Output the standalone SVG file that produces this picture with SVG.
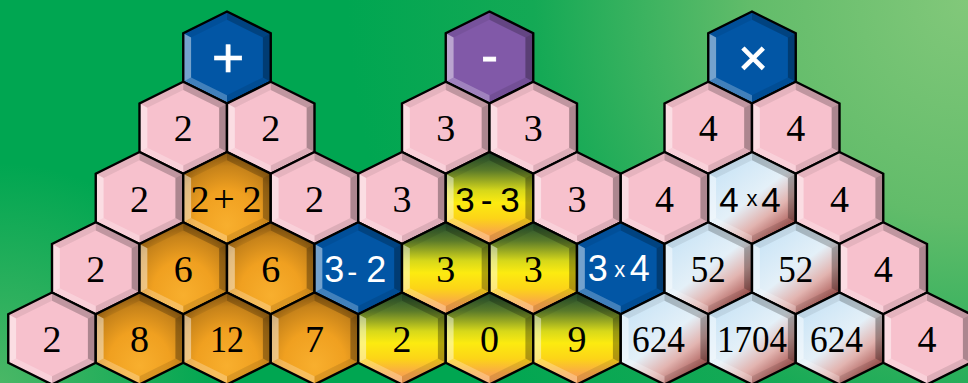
<svg xmlns="http://www.w3.org/2000/svg" xmlns:xlink="http://www.w3.org/1999/xlink" width="968" height="383" viewBox="0 0 968 383">
<style>
.n{font-family:"Liberation Serif","Times New Roman",serif;font-size:38px;fill:#000;text-anchor:middle}
.s{font-family:"Liberation Sans",Arial,sans-serif;font-size:35px;fill:#000;text-anchor:middle}
.w{font-family:"Liberation Sans",Arial,sans-serif;font-size:36px;fill:#fff;text-anchor:middle}
.x{font-size:22px}
.op{font-family:"Liberation Sans",Arial,sans-serif;fill:#fff;text-anchor:middle;stroke:#fff}
</style>
<defs>
<radialGradient id="bgA" gradientUnits="userSpaceOnUse" cx="968" cy="0" r="620">
<stop offset="0" stop-color="#82C87A"/>
<stop offset="0.35" stop-color="#62BC6A"/>
<stop offset="0.7" stop-color="#14A955"/>
<stop offset="1" stop-color="#00A651"/>
</radialGradient>
<radialGradient id="bgB" gradientUnits="userSpaceOnUse" cx="0" cy="383" r="220">
<stop offset="0" stop-color="#52B968" stop-opacity="0.9"/>
<stop offset="1" stop-color="#52B968" stop-opacity="0"/>
</radialGradient>
<radialGradient id="og" cx="0.5" cy="0.72" r="0.78" fx="0.5" fy="0.8">
<stop offset="0" stop-color="#F8AF2E"/>
<stop offset="0.45" stop-color="#F0A020"/>
<stop offset="0.75" stop-color="#C7831A"/>
<stop offset="1" stop-color="#7A4C0E"/>
</radialGradient>
<linearGradient id="yg" x1="0" y1="0" x2="0" y2="1">
<stop offset="0" stop-color="#1F4A2E"/>
<stop offset="0.2" stop-color="#5A7A2A"/>
<stop offset="0.42" stop-color="#D7D81A"/>
<stop offset="0.55" stop-color="#FCEB10"/>
<stop offset="0.72" stop-color="#FCD418"/>
<stop offset="0.88" stop-color="#F9A848"/>
<stop offset="1" stop-color="#F59A5A"/>
</linearGradient>
<linearGradient id="rg" x1="0.2" y1="0.1" x2="0.85" y2="1">
<stop offset="0" stop-color="#C9E4F6"/>
<stop offset="0.45" stop-color="#E4F0F8"/>
<stop offset="0.68" stop-color="#E2B4B0"/>
<stop offset="1" stop-color="#8E2E2A"/>
</linearGradient>
<path id="hx" d="M0,-46 L43.75,-24.25 L43.75,24.25 L0,46 L-43.75,24.25 L-43.75,-24.25 Z"/>
<g id="bv">
<path d="M0,-46 L-43.75,-24.25 L-35.9,-19.9 L0,-37.7 Z" fill="#000" fill-opacity="0.07"/>
<path d="M0,-46 L43.75,-24.25 L35.9,-19.9 L0,-37.7 Z" fill="#000" fill-opacity="0.22"/>
<path d="M43.75,-24.25 L43.75,24.25 L35.9,19.9 L35.9,-19.9 Z" fill="#000" fill-opacity="0.3"/>
<path d="M43.75,24.25 L0,46 L0,37.7 L35.9,19.9 Z" fill="#000" fill-opacity="0.1"/>
<path d="M0,46 L-43.75,24.25 L-35.9,19.9 L0,37.7 Z" fill="#fff" fill-opacity="0.25"/>
<path d="M-43.75,24.25 L-43.75,-24.25 L-35.9,-19.9 L-35.9,19.9 Z" fill="#fff" fill-opacity="0.45"/>
</g>
</defs>
<rect width="968" height="383" fill="url(#bgA)"/>
<rect width="968" height="383" fill="url(#bgB)"/>
<g id="connectors"></g>

<!-- Row 0 -->
<g id="op-plus" transform="translate(227,57.5)"><use href="#hx" fill="#0256A5"/><use href="#bv"/><use href="#hx" fill="none" stroke="#000" stroke-width="2.4"/><text class="op" x="1" y="19" font-size="56" stroke-width="0.6">+</text></g>
<g id="op-minus" transform="translate(489.5,57.5)"><use href="#hx" fill="#8159A8"/><use href="#bv"/><use href="#hx" fill="none" stroke="#000" stroke-width="2.4"/><text class="op" x="0" y="14" font-size="50" stroke-width="0.8">-</text></g>
<g id="op-times" transform="translate(752,57.5)"><use href="#hx" fill="#0256A5"/><use href="#bv"/><use href="#hx" fill="none" stroke="#000" stroke-width="2.4"/><text class="op" x="1" y="17" font-size="50" stroke-width="1">×</text></g>

<!-- Row 1 -->
<g id="r1c1" transform="translate(183.25,127.75)"><use href="#hx" fill="#F7C1CD"/><use href="#bv"/><use href="#hx" fill="none" stroke="#000" stroke-width="2.4"/><text class="n" y="13.5">2</text></g>
<g id="r1c2" transform="translate(270.75,127.75)"><use href="#hx" fill="#F7C1CD"/><use href="#bv"/><use href="#hx" fill="none" stroke="#000" stroke-width="2.4"/><text class="n" y="13.5">2</text></g>
<g id="r1c4" transform="translate(445.75,127.75)"><use href="#hx" fill="#F7C1CD"/><use href="#bv"/><use href="#hx" fill="none" stroke="#000" stroke-width="2.4"/><text class="n" y="13.5">3</text></g>
<g id="r1c5" transform="translate(533.25,127.75)"><use href="#hx" fill="#F7C1CD"/><use href="#bv"/><use href="#hx" fill="none" stroke="#000" stroke-width="2.4"/><text class="n" y="13.5">3</text></g>
<g id="r1c7" transform="translate(708.25,127.75)"><use href="#hx" fill="#F7C1CD"/><use href="#bv"/><use href="#hx" fill="none" stroke="#000" stroke-width="2.4"/><text class="n" y="13.5">4</text></g>
<g id="r1c8" transform="translate(795.75,127.75)"><use href="#hx" fill="#F7C1CD"/><use href="#bv"/><use href="#hx" fill="none" stroke="#000" stroke-width="2.4"/><text class="n" y="13.5">4</text></g>

<!-- Row 2 -->
<g id="r2c1" transform="translate(139.5,198)"><use href="#hx" fill="#F7C1CD"/><use href="#bv"/><use href="#hx" fill="none" stroke="#000" stroke-width="2.4"/><text class="n" y="13.5">2</text></g>
<g id="r2c2" transform="translate(227,198)"><use href="#hx" fill="url(#og)"/><use href="#bv"/><use href="#hx" fill="none" stroke="#000" stroke-width="2.4"/><text class="n" y="13.5"><tspan x="-27">2</tspan><tspan x="-3">+</tspan><tspan x="25">2</tspan></text></g>
<g id="r2c3" transform="translate(314.5,198)"><use href="#hx" fill="#F7C1CD"/><use href="#bv"/><use href="#hx" fill="none" stroke="#000" stroke-width="2.4"/><text class="n" y="13.5">2</text></g>
<g id="r2c4" transform="translate(402,198)"><use href="#hx" fill="#F7C1CD"/><use href="#bv"/><use href="#hx" fill="none" stroke="#000" stroke-width="2.4"/><text class="n" y="13.5">3</text></g>
<g id="r2c5" transform="translate(489.5,198)"><use href="#hx" fill="url(#yg)"/><use href="#bv"/><use href="#hx" fill="none" stroke="#000" stroke-width="2.4"/><text class="s" y="13.5"><tspan x="-24.5">3</tspan><tspan x="-3">-</tspan><tspan x="20.5">3</tspan></text></g>
<g id="r2c6" transform="translate(577,198)"><use href="#hx" fill="#F7C1CD"/><use href="#bv"/><use href="#hx" fill="none" stroke="#000" stroke-width="2.4"/><text class="n" y="13.5">3</text></g>
<g id="r2c7" transform="translate(664.5,198)"><use href="#hx" fill="#F7C1CD"/><use href="#bv"/><use href="#hx" fill="none" stroke="#000" stroke-width="2.4"/><text class="n" y="13.5">4</text></g>
<g id="r2c8" transform="translate(752,198)"><use href="#hx" fill="url(#rg)"/><use href="#bv"/><use href="#hx" fill="none" stroke="#000" stroke-width="2.4"/><text class="s" y="13.5"><tspan x="-23">4</tspan><tspan x="19">4</tspan></text><text class="s x" x="0" y="7.5">x</text></g>
<g id="r2c9" transform="translate(839.5,198)"><use href="#hx" fill="#F7C1CD"/><use href="#bv"/><use href="#hx" fill="none" stroke="#000" stroke-width="2.4"/><text class="n" y="13.5">4</text></g>

<!-- Row 3 -->
<g id="r3c0" transform="translate(95.75,268.25)"><use href="#hx" fill="#F7C1CD"/><use href="#bv"/><use href="#hx" fill="none" stroke="#000" stroke-width="2.4"/><text class="n" y="13.5">2</text></g>
<g id="r3c1" transform="translate(183.25,268.25)"><use href="#hx" fill="url(#og)"/><use href="#bv"/><use href="#hx" fill="none" stroke="#000" stroke-width="2.4"/><text class="n" y="13.5">6</text></g>
<g id="r3c2" transform="translate(270.75,268.25)"><use href="#hx" fill="url(#og)"/><use href="#bv"/><use href="#hx" fill="none" stroke="#000" stroke-width="2.4"/><text class="n" y="13.5">6</text></g>
<g id="r3c3" transform="translate(358.25,268.25)"><use href="#hx" fill="#0256A5"/><use href="#bv"/><use href="#hx" fill="none" stroke="#000" stroke-width="2.4"/><text class="w" y="14"><tspan x="-24">3</tspan><tspan x="-6" font-size="30">-</tspan><tspan x="18">2</tspan></text></g>
<g id="r3c4" transform="translate(445.75,268.25)"><use href="#hx" fill="url(#yg)"/><use href="#bv"/><use href="#hx" fill="none" stroke="#000" stroke-width="2.4"/><text class="n" y="13.5">3</text></g>
<g id="r3c5" transform="translate(533.25,268.25)"><use href="#hx" fill="url(#yg)"/><use href="#bv"/><use href="#hx" fill="none" stroke="#000" stroke-width="2.4"/><text class="n" y="13.5">3</text></g>
<g id="r3c6" transform="translate(620.75,268.25)"><use href="#hx" fill="#0256A5"/><use href="#bv"/><use href="#hx" fill="none" stroke="#000" stroke-width="2.4"/><text class="w" y="12.5" font-size="35"><tspan x="-23">3</tspan><tspan x="19">4</tspan></text><text class="w x" x="-1" y="8.5">x</text></g>
<g id="r3c7" transform="translate(708.25,268.25)"><use href="#hx" fill="url(#rg)"/><use href="#bv"/><use href="#hx" fill="none" stroke="#000" stroke-width="2.4"/><text class="n" y="13.5" textLength="35" lengthAdjust="spacingAndGlyphs">52</text></g>
<g id="r3c8" transform="translate(795.75,268.25)"><use href="#hx" fill="url(#rg)"/><use href="#bv"/><use href="#hx" fill="none" stroke="#000" stroke-width="2.4"/><text class="n" y="13.5" textLength="35" lengthAdjust="spacingAndGlyphs">52</text></g>
<g id="r3c9" transform="translate(883.25,268.25)"><use href="#hx" fill="#F7C1CD"/><use href="#bv"/><use href="#hx" fill="none" stroke="#000" stroke-width="2.4"/><text class="n" y="13.5">4</text></g>

<!-- Row 4 -->
<g id="r4c0" transform="translate(52,338.5)"><use href="#hx" fill="#F7C1CD"/><use href="#bv"/><use href="#hx" fill="none" stroke="#000" stroke-width="2.4"/><text class="n" y="13.5">2</text></g>
<g id="r4c1" transform="translate(139.5,338.5)"><use href="#hx" fill="url(#og)"/><use href="#bv"/><use href="#hx" fill="none" stroke="#000" stroke-width="2.4"/><text class="n" y="13.5">8</text></g>
<g id="r4c2" transform="translate(227,338.5)"><use href="#hx" fill="url(#og)"/><use href="#bv"/><use href="#hx" fill="none" stroke="#000" stroke-width="2.4"/><text class="n" y="13.5" textLength="34" lengthAdjust="spacingAndGlyphs">12</text></g>
<g id="r4c3" transform="translate(314.5,338.5)"><use href="#hx" fill="url(#og)"/><use href="#bv"/><use href="#hx" fill="none" stroke="#000" stroke-width="2.4"/><text class="n" y="13.5">7</text></g>
<g id="r4c4" transform="translate(402,338.5)"><use href="#hx" fill="url(#yg)"/><use href="#bv"/><use href="#hx" fill="none" stroke="#000" stroke-width="2.4"/><text class="n" y="13.5">2</text></g>
<g id="r4c5" transform="translate(489.5,338.5)"><use href="#hx" fill="url(#yg)"/><use href="#bv"/><use href="#hx" fill="none" stroke="#000" stroke-width="2.4"/><text class="n" y="13.5">0</text></g>
<g id="r4c6" transform="translate(577,338.5)"><use href="#hx" fill="url(#yg)"/><use href="#bv"/><use href="#hx" fill="none" stroke="#000" stroke-width="2.4"/><text class="n" y="13.5">9</text></g>
<g id="r4c7" transform="translate(664.5,338.5)"><use href="#hx" fill="url(#rg)"/><use href="#bv"/><use href="#hx" fill="none" stroke="#000" stroke-width="2.4"/><text class="n" x="-6" y="13.5" textLength="53" lengthAdjust="spacingAndGlyphs">624</text></g>
<g id="r4c8" transform="translate(752,338.5)"><use href="#hx" fill="url(#rg)"/><use href="#bv"/><use href="#hx" fill="none" stroke="#000" stroke-width="2.4"/><text class="n" x="0" y="13.5" textLength="70" lengthAdjust="spacingAndGlyphs">1704</text></g>
<g id="r4c9" transform="translate(839.5,338.5)"><use href="#hx" fill="url(#rg)"/><use href="#bv"/><use href="#hx" fill="none" stroke="#000" stroke-width="2.4"/><text class="n" x="-3" y="13.5" textLength="53" lengthAdjust="spacingAndGlyphs">624</text></g>
<g id="r4c10" transform="translate(927,338.5)"><use href="#hx" fill="#F7C1CD"/><use href="#bv"/><use href="#hx" fill="none" stroke="#000" stroke-width="2.4"/><text class="n" y="13.5">4</text></g>
</svg>
